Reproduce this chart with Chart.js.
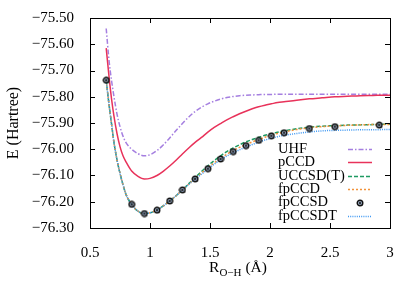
<!DOCTYPE html>
<html lang="en">

<head>
    <meta charset="UTF-8">
    <title>O-H dissociation</title>
    <script src="https://cdn.jsdelivr.net/npm/chart.js"></script>
    <style>
        body {
            margin: 0;
            background: #fff;
        }

        #wrap {
            width: 415px;
            height: 290px;
        }
    </style>
</head>

<body>
    <div id="wrap"><canvas id="pes"></canvas></div>

    <script>
        // bond length grid (Angstrom)
        const R = [0.635, 0.66, 0.68, 0.70, 0.725, 0.75, 0.775, 0.80, 0.847, 0.90, 0.953, 1.0, 1.058, 1.11,
            1.164, 1.217, 1.270, 1.323, 1.376, 1.429, 1.482, 1.535, 1.588, 1.640, 1.693, 1.746, 1.799, 1.852,
            1.905, 1.958, 2.011, 2.064, 2.117, 2.222, 2.328, 2.434, 2.540, 2.646, 2.752, 2.858, 2.963, 3.0];

        const uhf = [-75.540, -75.668, -75.740, -75.800, -75.866, -75.914, -75.950, -75.975, -76.000, -76.017,
            -76.025, -76.021, -76.005, -75.984, -75.957, -75.929, -75.902, -75.877, -75.856, -75.840, -75.827,
            -75.817, -75.809, -75.803, -75.799, -75.796, -75.794, -75.793, -75.792, -75.791, -75.791, -75.790,
            -75.790, -75.790, -75.790, -75.790, -75.790, -75.790, -75.790, -75.790, -75.790, -75.790];

        const pccd = [-75.615, -75.730, -75.810, -75.875, -75.940, -75.990, -76.025, -76.048, -76.083, -76.103,
            -76.113, -76.111, -76.100, -76.084, -76.064, -76.042, -76.018, -75.995, -75.974, -75.955, -75.935,
            -75.917, -75.902, -75.888, -75.876, -75.865, -75.855, -75.846, -75.838, -75.832, -75.827, -75.822,
            -75.819, -75.813, -75.808, -75.804, -75.800, -75.798, -75.796, -75.795, -75.794, -75.794];

        const uccsdt = [-75.737, -75.835, -75.905, -75.975, -76.040, -76.092, -76.135, -76.172, -76.210, -76.236,
            -76.245, -76.242, -76.232, -76.216, -76.197, -76.177, -76.155, -76.131, -76.108, -76.085, -76.063,
            -76.043, -76.025, -76.009, -75.995, -75.983, -75.972, -75.963, -75.955, -75.947, -75.941, -75.935,
            -75.930, -75.922, -75.916, -75.912, -75.910, -75.908, -75.907, -75.906, -75.905, -75.905];

        const fpccd = [-75.737, -75.835, -75.905, -75.975, -76.040, -76.092, -76.135, -76.172, -76.210, -76.236,
            -76.245, -76.242, -76.232, -76.216, -76.197, -76.177, -76.155, -76.133, -76.111, -76.091, -76.071,
            -76.052, -76.034, -76.019, -76.005, -75.993, -75.982, -75.972, -75.963, -75.954, -75.946, -75.940,
            -75.934, -75.925, -75.918, -75.914, -75.911, -75.909, -75.907, -75.906, -75.906, -75.906];

        const fpccsdt = [-75.737, -75.835, -75.905, -75.975, -76.040, -76.092, -76.135, -76.172, -76.210, -76.236,
            -76.245, -76.242, -76.232, -76.216, -76.197, -76.177, -76.155, -76.134, -76.114, -76.095, -76.076,
            -76.057, -76.040, -76.026, -76.014, -76.002, -75.992, -75.982, -75.973, -75.965, -75.958, -75.952,
            -75.947, -75.940, -75.934, -75.930, -75.928, -75.927, -75.926, -75.926, -75.925, -75.925];

        // fpCCSD is only shown as points
        const dotR = [0.635, 0.847, 0.953, 1.058, 1.164, 1.270, 1.376, 1.482, 1.588, 1.693, 1.799, 1.905,
            2.011, 2.117, 2.328, 2.540, 2.910];
        const fpccsd = [-75.737, -76.210, -76.245, -76.232, -76.197, -76.155, -76.113, -76.074, -76.037, -76.009,
            -75.986, -75.966, -75.949, -75.937, -75.921, -75.914, -75.908];

        const yTicks = { min: -76.3, max: -75.5, step: 0.1 };
        const xTicks = { min: 0.5, max: 3, step: 0.5 };

        const serif = "'Liberation Serif', 'DejaVu Serif', serif";

        function pts(xs, ys) {
            return xs.map((x, i) => ({ x: x, y: ys[i] }));
        }

        // circle-with-dot marker
        const marker = document.createElement('canvas');
        marker.width = 8;
        marker.height = 8;
        (function () {
            const c = marker.getContext('2d');
            c.beginPath();
            c.arc(4, 4, 2.8, 0, Math.PI * 2);
            c.fillStyle = 'rgba(120,140,170,0.8)';
            c.fill();
            c.lineWidth = 1.4;
            c.strokeStyle = '#111';
            c.stroke();
            c.beginPath();
            c.arc(4, 4, 1, 0, Math.PI * 2);
            c.fillStyle = '#111';
            c.fill();
        })();

        function lineSet(label, data, color, dash, order) {
            return {
                label: label,
                data: pts(R, data),
                borderColor: color,
                borderWidth: 1.5,
                borderDash: dash,
                pointRadius: 0,
                fill: false,
                cubicInterpolationMode: 'monotone',
                order: order
            };
        }

        const datasets = [
            lineSet('UHF', uhf, '#a57fe0', [5, 2, 1.5, 2], 5),
            lineSet('pCCD', pccd, '#e8325a', [], 4),
            lineSet('UCCSD(T)', uccsdt, '#1f9a62', [4, 2], 3),
            lineSet('fpCCD', fpccd, '#f2923a', [2, 2], 2),
            {
                label: 'fpCCSD',
                data: pts(dotR, fpccsd),
                showLine: false,
                pointStyle: marker,
                pointRadius: 4,
                order: 0
            },
            lineSet('fpCCSDT', fpccsdt, '#3f98f2', [1, 1.2], 1)
        ];

        // frame, inward ticks, axis titles and the legend
        const decor = {
            id: 'decor',
            afterDraw(chart) {
                const ctx = chart.ctx;
                const a = chart.chartArea;
                const xs = chart.scales.x;
                const ys = chart.scales.y;
                ctx.save();
                ctx.strokeStyle = '#000';
                ctx.lineWidth = 1;
                ctx.strokeRect(Math.round(a.left) + 0.5, Math.round(a.top) + 0.5,
                    Math.round(a.right - a.left), Math.round(a.bottom - a.top));

                ctx.beginPath();
                xs.ticks.forEach(t => {
                    const px = Math.round(xs.getPixelForValue(t.value)) + 0.5;
                    ctx.moveTo(px, a.bottom);
                    ctx.lineTo(px, a.bottom - 5);
                    ctx.moveTo(px, a.top);
                    ctx.lineTo(px, a.top + 5);
                });
                ys.ticks.forEach(t => {
                    const py = Math.round(ys.getPixelForValue(t.value)) + 0.5;
                    ctx.moveTo(a.left, py);
                    ctx.lineTo(a.left + 5, py);
                    ctx.moveTo(a.right, py);
                    ctx.lineTo(a.right - 5, py);
                });
                ctx.stroke();

                // y title
                ctx.fillStyle = '#000';
                ctx.font = '16px ' + serif;
                ctx.textAlign = 'center';
                ctx.textBaseline = 'middle';
                ctx.translate(14, (a.top + a.bottom) / 2);
                ctx.rotate(-Math.PI / 2);
                ctx.fillText('E (Hartree)', 0, 0);
                ctx.setTransform(1, 0, 0, 1, 0, 0);

                // x title: R with subscript O−H
                ctx.textAlign = 'left';
                ctx.textBaseline = 'alphabetic';
                const big = '15.5px ' + serif;
                const small = '11px ' + serif;
                ctx.font = big;
                const w1 = ctx.measureText('R').width;
                const w3 = ctx.measureText(' (Å)').width;
                ctx.font = small;
                const w2 = ctx.measureText('O−H').width;
                let x0 = 238 - (w1 + w2 + w3) / 2;
                const base = 272;
                ctx.font = big;
                ctx.fillText('R', x0, base);
                ctx.font = small;
                ctx.fillText('O−H', x0 + w1, base + 4);
                ctx.font = big;
                ctx.fillText(' (Å)', x0 + w1 + w2, base);

                // legend
                ctx.font = '14.5px ' + serif;
                ctx.textBaseline = 'middle';
                chart.data.datasets.forEach((ds, i) => {
                    const y = 149 + i * 13.4;
                    ctx.fillStyle = '#000';
                    ctx.fillText(ds.label, 278, y);
                    if (ds.showLine === false) {
                        ctx.drawImage(marker, 360 - 4, Math.round(y) - 4);
                    } else {
                        ctx.beginPath();
                        ctx.setLineDash(ds.borderDash);
                        ctx.strokeStyle = ds.borderColor;
                        ctx.lineWidth = 1.5;
                        ctx.moveTo(348, Math.round(y) + 0.5);
                        ctx.lineTo(372, Math.round(y) + 0.5);
                        ctx.stroke();
                        ctx.setLineDash([]);
                    }
                });
                ctx.restore();
            }
        };

        new Chart(document.getElementById('pes'), {
            type: 'line',
            data: { datasets: datasets },
            plugins: [decor],
            options: {
                responsive: true,
                maintainAspectRatio: false,
                animation: false,
                layout: { padding: { top: 18, right: 25, left: 0, bottom: 0 } },
                plugins: {
                    legend: { display: false },
                    tooltip: { enabled: false }
                },
                scales: {
                    x: {
                        type: 'linear',
                        min: xTicks.min,
                        max: xTicks.max,
                        grid: { display: false },
                        border: { display: false },
                        ticks: {
                            stepSize: xTicks.step,
                            maxRotation: 0,
                            padding: 8,
                            color: '#000',
                            font: { family: serif, size: 15 },
                            callback: v => String(v)
                        },
                        afterFit: s => { s.height = 62; }
                    },
                    y: {
                        min: yTicks.min,
                        max: yTicks.max,
                        grid: { display: false },
                        border: { display: false },
                        ticks: {
                            stepSize: yTicks.step,
                            padding: 8,
                            color: '#000',
                            font: { family: serif, size: 15 },
                            callback: v => v.toFixed(2).replace('-', '−')
                        },
                        afterFit: s => { s.width = 90; }
                    }
                }
            }
        });
    </script>
</body>

</html>
